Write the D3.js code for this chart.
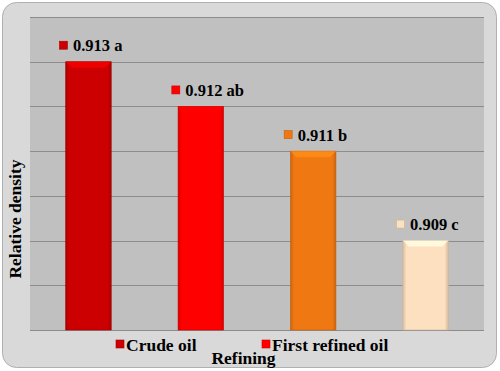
<!DOCTYPE html>
<html>
<head>
<meta charset="utf-8">
<script src="https://cdn.jsdelivr.net/npm/d3@7"></script>
<style>
  body { margin: 0; background: #ffffff; }
</style>
</head>
<body>
<svg id="drawing_region"></svg>
<script>
// data
const categories = ["Crude oil", "First refined oil", "Second refined oil", "Third refined oil"];
const values = [0.913, 0.912, 0.911, 0.909];
const letters = ["a", "ab", "b", "c"];
const colors = ["#cc0000", "#ff0000", "#f07812", "#fde0c0"];
const yTicks = [0.907, 0.908, 0.909, 0.910, 0.911, 0.912, 0.913, 0.914];
const legendItems = ["Crude oil", "First refined oil"];

const FONT = "'Liberation Serif', 'Times New Roman', serif";

const width = 500, height = 371;
const margin = {top: 17, right: 16, bottom: 41, left: 30};
const inner_width = width - margin.left - margin.right;
const inner_height = height - margin.top - margin.bottom;

const svg = d3.select('#drawing_region')
    .attr('width', width)
    .attr('height', height)
    .attr('font-family', FONT)
    .attr('font-weight', 'bold');

// outer frame
svg.append('rect')
    .attr('x', 2.5).attr('y', 2.5)
    .attr('width', 494).attr('height', 365)
    .attr('rx', 14).attr('ry', 14)
    .attr('fill', '#d9d9d9')
    .attr('stroke', '#b0b0b0');

const defs = svg.append('defs');
colors.forEach((c, i) => {
    const g = defs.append('linearGradient').attr('id', 'grad' + i)
        .attr('x1', 0).attr('x2', 1).attr('y1', 0).attr('y2', 0);
    g.append('stop').attr('offset', 0).attr('stop-color', d3.color(c).darker(0.5));
    g.append('stop').attr('offset', 0.08).attr('stop-color', c);
    g.append('stop').attr('offset', 0.92).attr('stop-color', c);
    g.append('stop').attr('offset', 1).attr('stop-color', d3.color(c).darker(0.5));
});

const chart = svg.append('g')
    .attr('transform', `translate(${margin.left}, ${margin.top})`);

chart.append('rect')
    .attr('width', inner_width)
    .attr('height', inner_height)
    .attr('fill', '#c0c0c0');

const xscale = d3.scaleBand()
    .domain(categories)
    .range([2, inner_width - 2])
    .paddingInner(0.595)
    .paddingOuter(0.3);

const yscale = d3.scaleLinear()
    .domain([d3.min(yTicks), d3.max(yTicks)])
    .range([inner_height, 0]);

// gridlines
chart.selectAll('.grid')
    .data(yTicks)
    .enter()
    .append('line')
    .attr('x1', 0).attr('x2', inner_width)
    .attr('y1', d => Math.round(yscale(d)) + 0.5)
    .attr('y2', d => Math.round(yscale(d)) + 0.5)
    .attr('stroke', '#8c8c8c')
    .attr('stroke-width', 1.2);

// bars
const bars = chart.selectAll('.bar')
    .data(values)
    .enter()
    .append('g');

bars.append('rect')
    .attr('x', (d, i) => xscale(categories[i]))
    .attr('y', d => yscale(d))
    .attr('width', xscale.bandwidth())
    .attr('height', d => inner_height - yscale(d))
    .attr('fill', (d, i) => `url(#grad${i})`)
    .attr('stroke', (d, i) => d3.color(colors[i]).darker(0.6))
    .attr('stroke-width', 0.6);

// top bevel highlight
bars.append('path')
    .attr('d', (d, i) => {
        const x0 = xscale(categories[i]), x1 = x0 + xscale.bandwidth(), y0 = yscale(d);
        return `M${x0},${y0}L${x1},${y0}L${x1 - 6},${y0 + 6}L${x0 + 6},${y0 + 6}Z`;
    })
    .attr('fill', (d, i) => d3.color(colors[i]).brighter(0.5))
    .attr('opacity', 0.8);

// value labels
const labels = chart.selectAll('.label')
    .data(values)
    .enter()
    .append('g')
    .attr('transform', (d, i) => `translate(${xscale(categories[i]) + xscale.bandwidth() / 2}, ${yscale(d) - 17})`);

labels.append('text')
    .attr('x', -15.5)
    .attr('y', 6.5)
    .style('font-size', '16.5px')
    .text((d, i) => `${d3.format('.3f')(d)} ${letters[i]}`);

labels.append('rect')
    .attr('x', -29).attr('y', -3.5)
    .attr('width', 8).attr('height', 8)
    .attr('fill', (d, i) => colors[i])
    .attr('stroke', (d, i) => d3.color(colors[i]).darker(0.6))
    .attr('stroke-width', 0.6);

// legend
const legendX = [116, 262];
legendItems.forEach((name, i) => {
    svg.append('rect')
        .attr('x', legendX[i]).attr('y', 340)
        .attr('width', 8).attr('height', 8)
        .attr('fill', colors[i])
        .attr('stroke', d3.color(colors[i]).darker(0.6))
        .attr('stroke-width', 0.6);
    svg.append('text')
        .attr('x', legendX[i] + 10)
        .attr('y', 350.5)
        .style('font-size', '17.5px')
        .text(name);
});

// axis titles
svg.append('text')
    .attr('text-anchor', 'middle')
    .attr('x', 243.5)
    .attr('y', 364)
    .style('font-size', '17.5px')
    .text('Refining');

svg.append('text')
    .attr('text-anchor', 'middle')
    .attr('transform', 'rotate(-90)')
    .attr('x', -219)
    .attr('y', 21)
    .style('font-size', '17.5px')
    .text('Relative density');
</script>
</body>
</html>
